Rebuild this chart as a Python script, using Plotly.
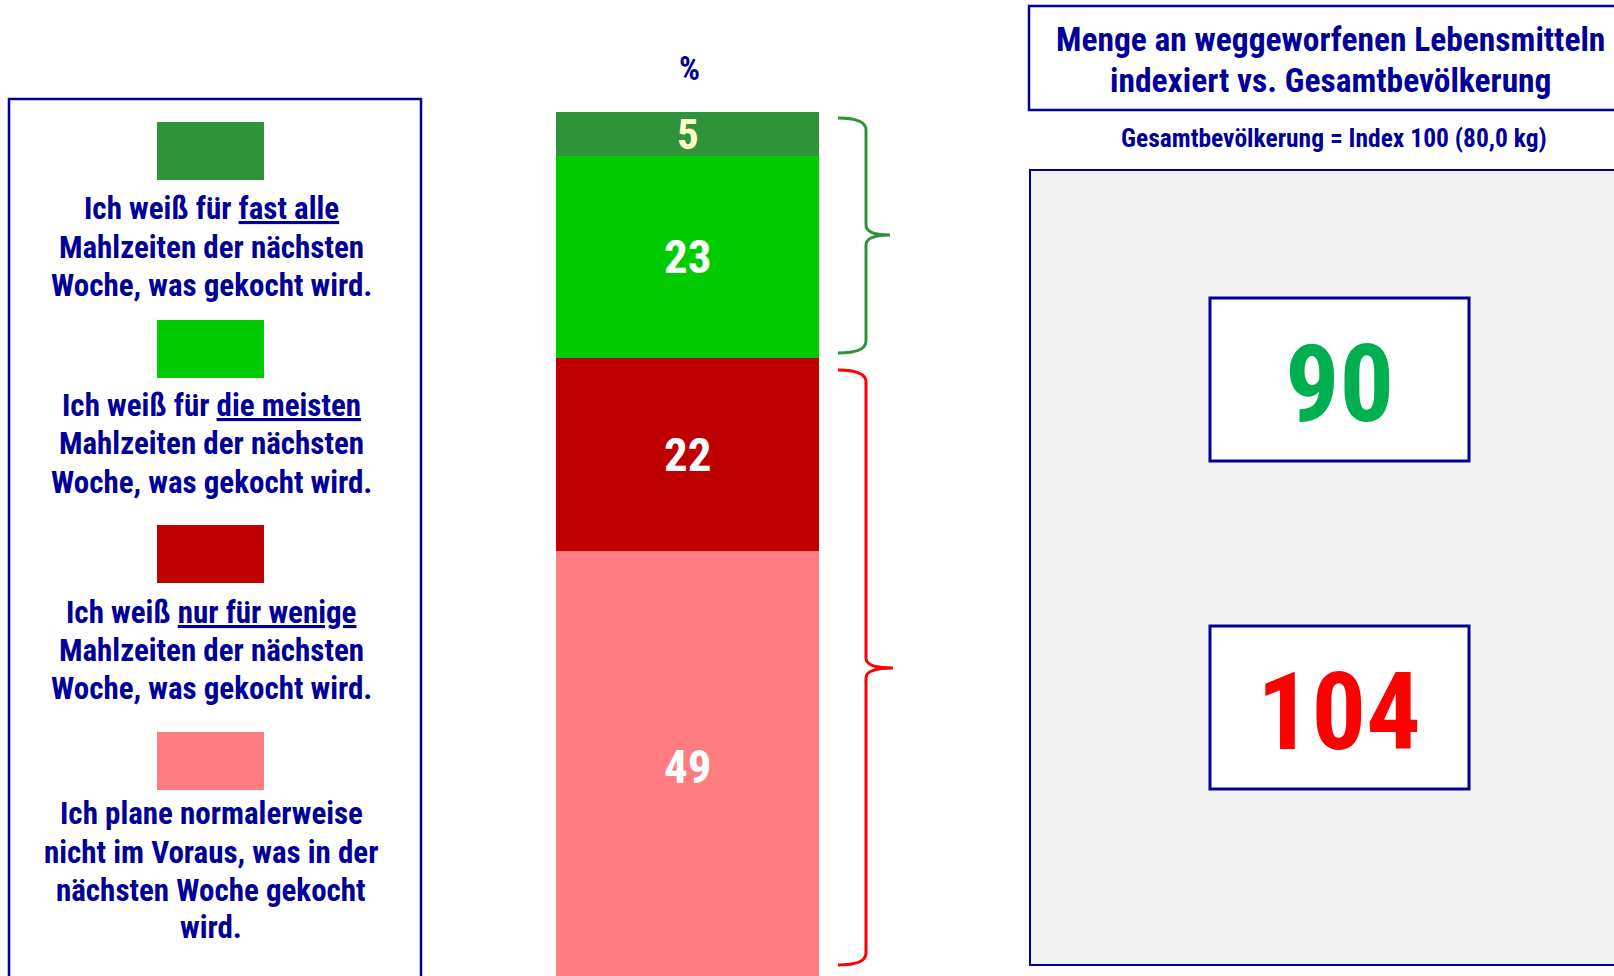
import plotly.graph_objects as go

# ---------------- data ----------------
# stacked bar, bottom -> top
segment_names = ["nicht im Voraus", "nur für wenige", "die meisten", "fast alle"]
segment_values = [49, 22, 23, 5]
segment_colors = ["#ff7c80", "#c00000", "#00cc00", "#2e9339"]
label_colors = ["#ffffff", "#ffffff", "#ffffff", "#ffffcc"]

# legend entries, top -> bottom
legend_colors = ["#2e9339", "#00cc00", "#c00000", "#ff7c80"]
legend_texts = [
    ["Ich weiß für <u>fast alle</u>", "Mahlzeiten der nächsten", "Woche, was gekocht wird."],
    ["Ich weiß für <u>die meisten</u>", "Mahlzeiten der nächsten", "Woche, was gekocht wird."],
    ["Ich weiß <u>nur für wenige</u>", "Mahlzeiten der nächsten", "Woche, was gekocht wird."],
    ["Ich plane normalerweise", "nicht im Voraus, was in der", "nächsten Woche gekocht", "wird."],
]

index_values = [90, 104]
index_colors = ["#00b050", "#ff0000"]
title_lines = ["Menge an weggeworfenen Lebensmitteln", "indexiert vs. Gesamtbevölkerung"]
subtitle = "Gesamtbevölkerung = Index 100 (80,0 kg)"

# ---------------- layout helpers ----------------
W, H = 1614, 976
NAVY = "#000099"
FONT = "Liberation Sans Narrow, Arial Narrow, Roboto Condensed, DejaVu Sans Condensed, Liberation Sans, sans-serif"


def px(x):
    return x / W


def py(y):
    return 1 - y / H


fig = go.Figure()

# bar traces
bar_top_px = 112
for name, v, c in zip(segment_names, segment_values, segment_colors):
    fig.add_trace(go.Bar(x=[0], y=[v], name=name, marker=dict(color=c, line=dict(width=0)),
                         width=1, hoverinfo="y+name", showlegend=False))

total = sum(segment_values)
fig.update_layout(
    barmode="stack",
    width=W, height=H,
    margin=dict(l=0, r=0, t=0, b=0),
    paper_bgcolor="white", plot_bgcolor="white",
    xaxis=dict(domain=[px(556), px(819)], range=[-0.5, 0.5], visible=False, fixedrange=True),
    yaxis=dict(domain=[0, py(bar_top_px)], range=[0.6, total], visible=False, fixedrange=True),
    showlegend=False,
)

shapes = []
annotations = []

# bar labels
cum = 0
for v, lc in zip(segment_values, label_colors):
    mid = cum + v / 2
    cum += v
    annotations.append(dict(x=0, y=mid, xref="x", yref="y", text=f"<b>{v}</b>", showarrow=False,
                            font=dict(family=FONT, size=47 if v >= 10 else 43, color=lc),
                            xanchor="center", yanchor="middle"))

# "%" header
annotations.append(dict(x=px(689), y=py(68), xref="paper", yref="paper", text="<b>%</b>", showarrow=False,
                        font=dict(family=FONT, size=33, color=NAVY), xanchor="center", yanchor="middle"))

# legend box
shapes.append(dict(type="rect", xref="paper", yref="paper", x0=px(9), x1=px(421), y0=py(1000), y1=py(99),
                   line=dict(color=NAVY, width=2.5), fillcolor="rgba(0,0,0,0)", layer="above"))
swatch_tops = [122, 320, 525, 732]
line_centers = [[208, 247, 285], [405, 443, 482], [612, 650, 688], [813, 852, 890, 927]]
for col, top, lines, ys in zip(legend_colors, swatch_tops, legend_texts, line_centers):
    shapes.append(dict(type="rect", xref="paper", yref="paper", x0=px(157), x1=px(264), y0=py(top + 58),
                       y1=py(top), line=dict(width=0), fillcolor=col))
    for t, yy in zip(lines, ys):
        annotations.append(dict(x=px(211), y=py(yy), xref="paper", yref="paper", text=f"<b>{t}</b>",
                                showarrow=False, font=dict(family=FONT, size=31, color=NAVY),
                                xanchor="center", yanchor="middle"))


# braces
def brace(top, bottom, tip, xl, xv, xt):
    pts = (f"M {px(xl)},{py(top)} Q {px(xv)},{py(top)} {px(xv)},{py(top + 12)} "
           f"L {px(xv)},{py(tip - 10)} Q {px(xv)},{py(tip)} {px(xt)},{py(tip)} "
           f"Q {px(xv)},{py(tip)} {px(xv)},{py(tip + 10)} "
           f"L {px(xv)},{py(bottom - 12)} Q {px(xv)},{py(bottom)} {px(xl)},{py(bottom)}")
    return pts


shapes.append(dict(type="path", xref="paper", yref="paper", path=brace(118, 353, 235, 838, 866, 890),
                   line=dict(color="#2e9339", width=3)))
shapes.append(dict(type="path", xref="paper", yref="paper", path=brace(370, 965, 668, 838, 866, 893),
                   line=dict(color="#ff0000", width=3)))

# right panel
shapes.append(dict(type="rect", xref="paper", yref="paper", x0=px(1029), x1=px(1660), y0=py(110), y1=py(6),
                   line=dict(color=NAVY, width=2.5), fillcolor="white"))
for t, yy in zip(title_lines, [39, 81]):
    annotations.append(dict(x=px(1330), y=py(yy), xref="paper", yref="paper", text=f"<b>{t}</b>",
                            showarrow=False, font=dict(family=FONT, size=33.5, color=NAVY),
                            xanchor="center", yanchor="middle"))
annotations.append(dict(x=px(1334), y=py(138), xref="paper", yref="paper", text=f"<b>{subtitle}</b>",
                        showarrow=False, font=dict(family=FONT, size=25.5, color=NAVY),
                        xanchor="center", yanchor="middle"))
shapes.append(dict(type="rect", xref="paper", yref="paper", x0=px(1030), x1=px(1660), y0=py(965), y1=py(170),
                   line=dict(color=NAVY, width=2), fillcolor="#f2f2f2", layer="below"))
for val, col, (t, b), cy in zip(index_values, index_colors, [(298, 461), (626, 789)], [384, 712]):
    shapes.append(dict(type="rect", xref="paper", yref="paper", x0=px(1210), x1=px(1469), y0=py(b), y1=py(t),
                       line=dict(color=NAVY, width=3), fillcolor="white", layer="below"))
    annotations.append(dict(x=px(1339), y=py(cy), xref="paper", yref="paper", text=f"<b>{val}</b>",
                            showarrow=False, font=dict(family=FONT, size=108, color=col),
                            xanchor="center", yanchor="middle"))

fig.update_layout(shapes=shapes, annotations=annotations)

fig.write_html("out.html", config={"displayModeBar": False},
               post_script="document.body.style.margin='0';document.body.style.overflow='hidden';")
